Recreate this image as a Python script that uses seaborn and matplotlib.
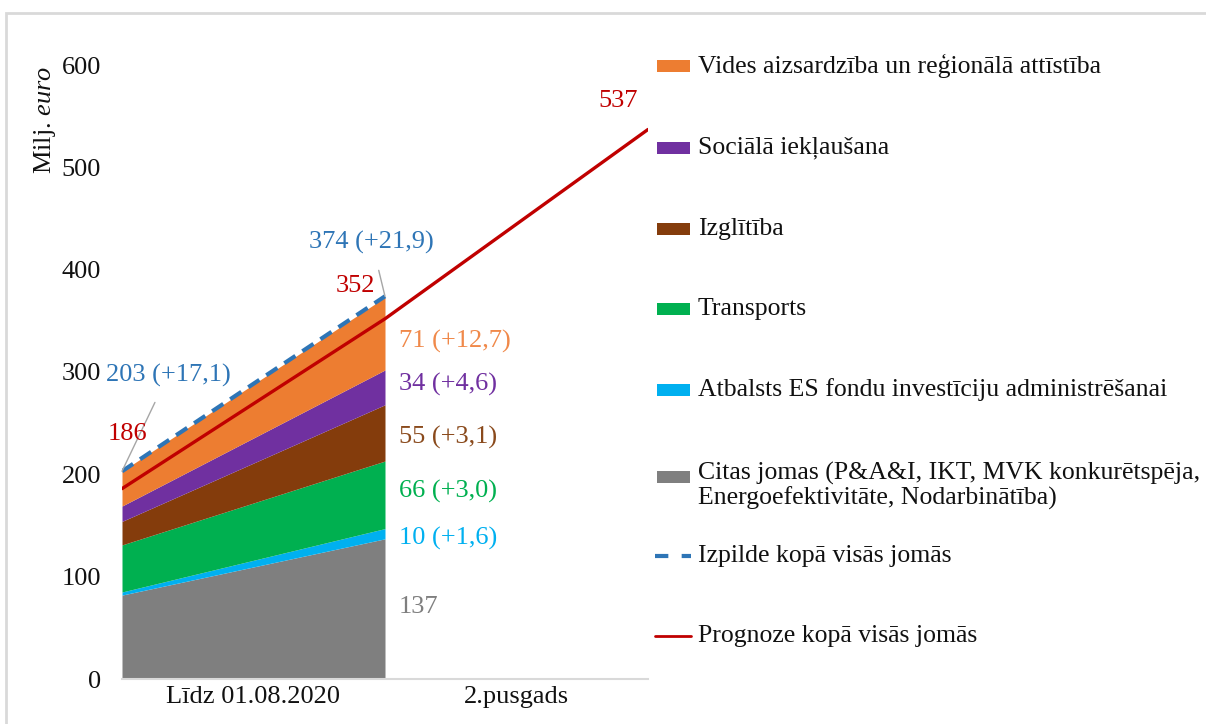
import pandas as pd
import matplotlib.pyplot as plt
import seaborn as sns
from matplotlib.patches import Rectangle
from matplotlib.lines import Line2D

# data
points = ["sākums", "01.08.2020", "31.12.2020"]
categories = ["Līdz 01.08.2020", "2.pusgads"]
series_names = [
    "Citas jomas (P&A&I, IKT, MVK konkurētspēja,\nEnergoefektivitāte, Nodarbinātība)",
    "Atbalsts ES fondu investīciju administrēšanai",
    "Transports",
    "Izglītība",
    "Sociālā iekļaušana",
    "Vides aizsardzība un reģionālā attīstība",
]
start_values = [82, 3, 46, 23, 15, 34]
end_values = [137, 10, 66, 55, 34, 71]
end_labels = ["137", "10 (+1,6)", "66 (+3,0)", "55 (+3,1)", "34 (+4,6)", "71 (+12,7)"]
actual_total = [203, 374]
actual_labels = ["203 (+17,1)", "374 (+21,9)"]
forecast_total = [186, 352, 537]

colors = ["#7f7f7f", "#00b0f0", "#00b050", "#843c0c", "#7030a0", "#ed7d31"]
label_colors = ["#7f7f7f", "#00b0f0", "#00b050", "#8a4a1c", "#7030a0", "#f0894a"]
blue = "#2e75b6"
red = "#c00000"

sns.set_theme(style="white")
plt.rcParams['font.family'] = ['Liberation Serif', 'DejaVu Serif']
plt.rcParams['mathtext.fontset'] = 'custom'
plt.rcParams['mathtext.rm'] = 'Liberation Serif'
plt.rcParams['mathtext.it'] = 'Liberation Serif:italic'

fs = 19
legend_fs = 18.5

fig = plt.figure(figsize=(12.06, 7.24), dpi=100)
fig.patch.set_facecolor("white")
fig.patches.append(Rectangle((6 / 1206, -0.1), 1.2, 1 - 13 / 724 + 0.1, transform=fig.transFigure,
                             fill=False, edgecolor="#d9d9d9", lw=2))
ax = fig.add_axes([122 / 1206, 1 - 679 / 724, 526 / 1206, 614 / 724])

xs = list(range(len(points)))
area_x = xs[:2]
layers = [[s, e] for s, e in zip(start_values, end_values)]
ax.stackplot(area_x, *layers, colors=colors, lw=0)

df_act = pd.DataFrame({"x": area_x, "y": actual_total})
df_fc = pd.DataFrame({"x": xs, "y": forecast_total})
sns.lineplot(data=df_act, x="x", y="y", ax=ax, color=blue, lw=3, linestyle="--")
ax.lines[-1].set_dashes((3.2, 2.0))
sns.lineplot(data=df_fc, x="x", y="y", ax=ax, color=red, lw=2.4)

ax.set_xlim(0, 2)
ax.set_ylim(0, 600)
ax.set_yticks(range(0, 601, 100))
ax.set_xticks([0.5, 1.5])
ax.set_xticklabels(categories)
ax.set_xlabel("")
ax.set_ylabel("")
ax.tick_params(axis="y", length=0, pad=15, labelsize=fs, labelcolor="#111111")
ax.tick_params(axis="x", length=0, pad=5, labelsize=fs, labelcolor="#111111")
for side in ["top", "right", "left"]:
    ax.spines[side].set_visible(False)
ax.spines["bottom"].set_color("#d9d9d9")
ax.spines["bottom"].set_linewidth(1.5)
ax.text(-0.146, 0.91, "Milj. $\\mathit{euro}$", transform=ax.transAxes, rotation=90,
        ha="center", va="center", fontsize=fs, color="#111111")

# value labels
ax.annotate(actual_labels[0], xy=(0.0, actual_total[0]), xytext=(0.175, 297), ha="center", va="center",
            fontsize=fs, color=blue,
            arrowprops=dict(arrowstyle="-", color="#a6a6a6", lw=1, shrinkA=10, shrinkB=0))
ax.annotate(actual_labels[1], xy=(1.0, actual_total[1]), xytext=(0.95, 427), ha="center", va="center",
            fontsize=fs, color=blue,
            arrowprops=dict(arrowstyle="-", color="#a6a6a6", lw=1, shrinkA=10, shrinkB=0))
ax.text(0.02, 239, str(forecast_total[0]), ha="center", va="center", fontsize=fs, color=red)
ax.text(0.886, 384, str(forecast_total[1]), ha="center", va="center", fontsize=fs, color=red)
ax.text(1.886, 565, str(forecast_total[2]), ha="center", va="center", fontsize=fs, color=red)

label_y = [70, 137, 183, 236, 288, 330]
for txt, yy, c in zip(end_labels, label_y, label_colors):
    ax.text(1.053, yy, txt, ha="left", va="center", fontsize=fs, color=c)

# legend, drawn in figure coordinates like the original
legend_rows = [
    (series_names[5], 66, "patch", colors[5]),
    (series_names[4], 148, "patch", colors[4]),
    (series_names[3], 229, "patch", colors[3]),
    (series_names[2], 309, "patch", colors[2]),
    (series_names[1], 390, "patch", colors[1]),
    (series_names[0], 477, "patch", colors[0]),
    ("Izpilde kopā visās jomās", 556, "dash", blue),
    ("Prognoze kopā visās jomās", 636, "line", red),
]
W, H = 1206, 724
for name, ypx, kind, c in legend_rows:
    yf = 1 - ypx / H
    if kind == "patch":
        fig.patches.append(Rectangle((657 / W, yf - 6 / H), 33 / W, 12 / H, transform=fig.transFigure,
                                     facecolor=c, edgecolor="none"))
    elif kind == "dash":
        fig.lines.append(Line2D([655 / W, 691 / W], [yf, yf], transform=fig.transFigure, color=c,
                                lw=3, dashes=(3.2, 3.2)))
    else:
        fig.lines.append(Line2D([655 / W, 691 / W], [yf, yf], transform=fig.transFigure, color=c, lw=2))
    if "\n" in name:
        fig.text(698 / W, yf + 15 / H, name, ha="left", va="top", fontsize=legend_fs, color="#111111",
                 linespacing=1.1)
    else:
        fig.text(698 / W, yf, name, ha="left", va="center", fontsize=legend_fs, color="#111111")

fig.savefig("out.png", dpi=100)
